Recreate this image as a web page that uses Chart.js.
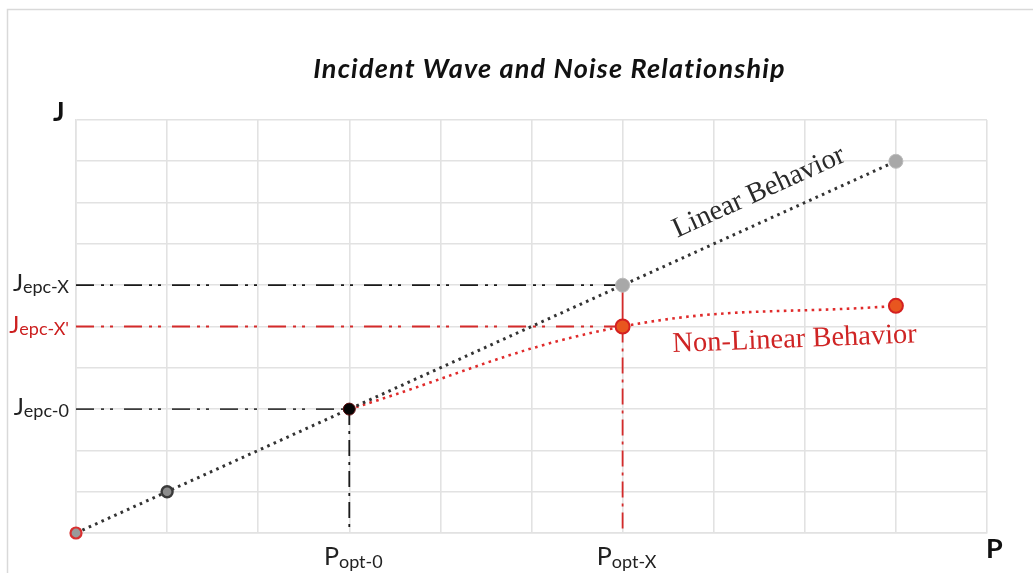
<!DOCTYPE html>
<html>
<head>
<meta charset="utf-8">
<style>
  html, body { margin: 0; padding: 0; background: #ffffff; }
  #wrap { width: 1033px; height: 573px; position: relative; }
</style>
<script src="https://cdn.jsdelivr.net/npm/chart.js@4.4.1/dist/chart.umd.min.js"></script>
</head>
<body>
<div id="wrap"><canvas id="c" width="1033" height="573"></canvas></div>
<script>
// ---- data ----
const chartTitle = 'Incident Wave and Noise Relationship';
const axisLetterY = 'J';
const axisLetterX = 'P';

const linearX = [0, 1, 3, 6, 9];
const linearY = [0, 1, 3, 6, 9];

const nonLinearX = [3, 6, 9];
const nonLinearY = [3, 5, 5.5];

// guide levels on the J axis (value, where the guide ends on P, label parts)
const jGuideValues = [6, 5, 3];
const jGuideEndP   = [6, 6, 3];
const jGuideMain   = ['J', 'J', 'J'];
const jGuideSub    = ['epc-X', "epc-X'", 'epc-0'];

// guide positions on the P axis (value, where the guide starts on J, label parts)
const pGuideValues = [3, 6];
const pGuideTopJ   = [3, 6];
const pGuideMain   = ['P', 'P'];
const pGuideSub    = ['opt-0', 'opt-X'];

const linearLabel = 'Linear Behavior';
const nonLinearLabel = 'Non-Linear Behavior';

// ---- styles ----
const RED = '#d42a2a';
const dashDotDot = [18, 7, 3, 6, 3, 11];
const dashDot = [16, 6, 3, 6];
const jGuideColors = ['#1a1a1a', RED, '#3c3c3c'];
const pGuideColors = ['#1a1a1a', RED];
const jLabelColors = ['#222222', '#cc1f1f', '#222222'];

const toPts = (xs, ys) => xs.map((x, i) => ({ x: x, y: ys[i] }));

const datasets = [];

// horizontal guides
jGuideValues.forEach((v, i) => {
  datasets.push({
    data: [{ x: 0, y: v }, { x: jGuideEndP[i], y: v }],
    showLine: true, borderColor: jGuideColors[i], borderWidth: 1.8,
    borderDash: dashDotDot, pointRadius: 0, order: 10
  });
});
// vertical guides
pGuideValues.forEach((v, i) => {
  const isRed = i === 1;
  const pts = isRed
    ? [{ x: v, y: pGuideTopJ[i] }, { x: v, y: nonLinearY[1] }, { x: v, y: 0 }]
    : [{ x: v, y: pGuideTopJ[i] }, { x: v, y: 0 }];
  datasets.push({
    data: pts,
    showLine: true, borderColor: pGuideColors[i], borderWidth: 1.8,
    borderDash: dashDot, pointRadius: 0, order: 10,
    segment: isRed ? { borderDash: ctx => ctx.p0DataIndex === 0 ? [] : dashDot } : undefined
  });
});

// non-linear series (red, smoothed)
datasets.push({
  label: 'Non-Linear',
  data: toPts(nonLinearX, nonLinearY),
  showLine: true,
  borderColor: '#e02b2b',
  borderWidth: 2.6,
  borderDash: [2.6, 4.4],
  tension: 0.4,
  pointRadius: [0, 7, 7],
  pointBackgroundColor: '#e8561f',
  pointBorderColor: '#d42020',
  pointBorderWidth: 2,
  order: 3,
  clip: false
});

// linear series (black dotted)
datasets.push({
  label: 'Linear',
  data: toPts(linearX, linearY),
  showLine: true,
  borderColor: '#333333',
  borderWidth: 3,
  borderDash: [2.6, 4.4],
  tension: 0,
  pointRadius: [5.5, 5.5, 6, 7, 7],
  pointBackgroundColor: ['#9a9a9a', '#8c8c8c', '#050505', '#a8a8a8', '#a8a8a8'],
  pointBorderColor: ['#d83030', '#3a3a3a', '#5a0a0a', '#bcbcbc', '#bcbcbc'],
  pointBorderWidth: [2.2, 2.4, 1, 1, 1],
  order: 1,
  clip: false
});

function drawSub(ctx, main, sub, x, y, align, color, mainFont, subFont, subDrop) {
  ctx.save();
  ctx.fillStyle = color;
  ctx.textBaseline = 'alphabetic';
  ctx.textAlign = 'left';
  ctx.font = mainFont;
  const wm = ctx.measureText(main).width;
  ctx.font = subFont;
  const ws = ctx.measureText(sub).width;
  const total = wm + ws;
  let x0 = x;
  if (align === 'right') x0 = x - total;
  else if (align === 'center') x0 = x - total / 2;
  ctx.font = mainFont;
  ctx.fillText(main, x0, y);
  ctx.font = subFont;
  ctx.fillText(sub, x0 + wm, y + subDrop);
  ctx.restore();
}

const textPlugin = {
  id: 'texts',
  beforeDraw(chart) {
    const ctx = chart.ctx;
    ctx.save();
    ctx.strokeStyle = '#d9d9d9';
    ctx.lineWidth = 1.5;
    ctx.beginPath();
    ctx.moveTo(7.5, 600);
    ctx.lineTo(7.5, 9.5);
    ctx.lineTo(1100, 9.5);
    ctx.stroke();
    ctx.restore();
  },
  afterDraw(chart) {
    const ctx = chart.ctx;
    const a = chart.chartArea;
    const xs = chart.scales.x, ys = chart.scales.y;

    // title
    ctx.save();
    ctx.fillStyle = '#111';
    ctx.font = 'italic bold 27px Lato';
    try { ctx.letterSpacing = '1.2px'; } catch (e) {}
    ctx.textAlign = 'center';
    ctx.textBaseline = 'alphabetic';
    ctx.fillText(chartTitle, (a.left + a.right) / 2 + 18, 78);
    try { ctx.letterSpacing = '0px'; } catch (e) {}
    // axis letters
    ctx.font = 'bold 27px Lato';
    ctx.textAlign = 'left';
    ctx.fillText(axisLetterY, a.left - 23, a.top + 1);
    ctx.fillText(axisLetterX, a.right - 1, a.bottom + 25);
    ctx.restore();

    // J guide labels
    jGuideValues.forEach((v, i) => {
      drawSub(ctx, jGuideMain[i], jGuideSub[i], a.left - 7, ys.getPixelForValue(v) + 6,
        'right', jLabelColors[i], 'normal 24px Lato', 'normal 18px Lato', 2);
    });
    // P guide labels
    pGuideValues.forEach((v, i) => {
      drawSub(ctx, pGuideMain[i], pGuideSub[i], xs.getPixelForValue(v) + 4, a.bottom + 32,
        'center', '#222222', 'normal 25px Lato', 'normal 18px Lato', 3);
    });

    // annotation: linear
    const ang = Math.atan2(ys.getPixelForValue(linearY[4]) - ys.getPixelForValue(linearY[2]),
                           xs.getPixelForValue(linearX[4]) - xs.getPixelForValue(linearX[2]));
    ctx.save();
    ctx.translate(xs.getPixelForValue(6.6), ys.getPixelForValue(7.15));
    ctx.rotate(ang);
    ctx.fillStyle = '#2a2a2a';
    ctx.font = 'normal 28.5px "Liberation Serif"';
    ctx.textAlign = 'left';
    ctx.textBaseline = 'alphabetic';
    ctx.fillText(linearLabel, 0, 0);
    ctx.restore();

    // annotation: non-linear
    ctx.save();
    ctx.translate(xs.getPixelForValue(6.55), ys.getPixelForValue(4.38));
    ctx.rotate(-2.3 * Math.PI / 180);
    ctx.fillStyle = '#cf2424';
    ctx.font = 'normal 28.5px "Liberation Serif"';
    ctx.textAlign = 'left';
    ctx.textBaseline = 'alphabetic';
    ctx.fillText(nonLinearLabel, 0, 0);
    ctx.restore();
  }
};

new Chart(document.getElementById('c'), {
  type: 'scatter',
  data: { datasets: datasets },
  options: {
    responsive: false,
    animation: false,
    layout: { padding: { left: 76, top: 120, right: 46, bottom: 40 } },
    plugins: { legend: { display: false }, title: { display: false }, tooltip: { enabled: false } },
    scales: {
      x: {
        type: 'linear', min: 0, max: 10,
        ticks: { display: false, stepSize: 1 },
        grid: { color: '#e2e2e2', lineWidth: 1.6, drawTicks: false },
        border: { display: true, color: '#e2e2e2', width: 1.6 },
        afterFit: s => { s.height = 0; }
      },
      y: {
        type: 'linear', min: 0, max: 10,
        ticks: { display: false, stepSize: 1 },
        grid: { color: '#e2e2e2', lineWidth: 1.6, drawTicks: false },
        border: { display: true, color: '#e2e2e2', width: 1.6 },
        afterFit: s => { s.width = 0; }
      }
    }
  },
  plugins: [textPlugin]
});
</script>
</body>
</html>
